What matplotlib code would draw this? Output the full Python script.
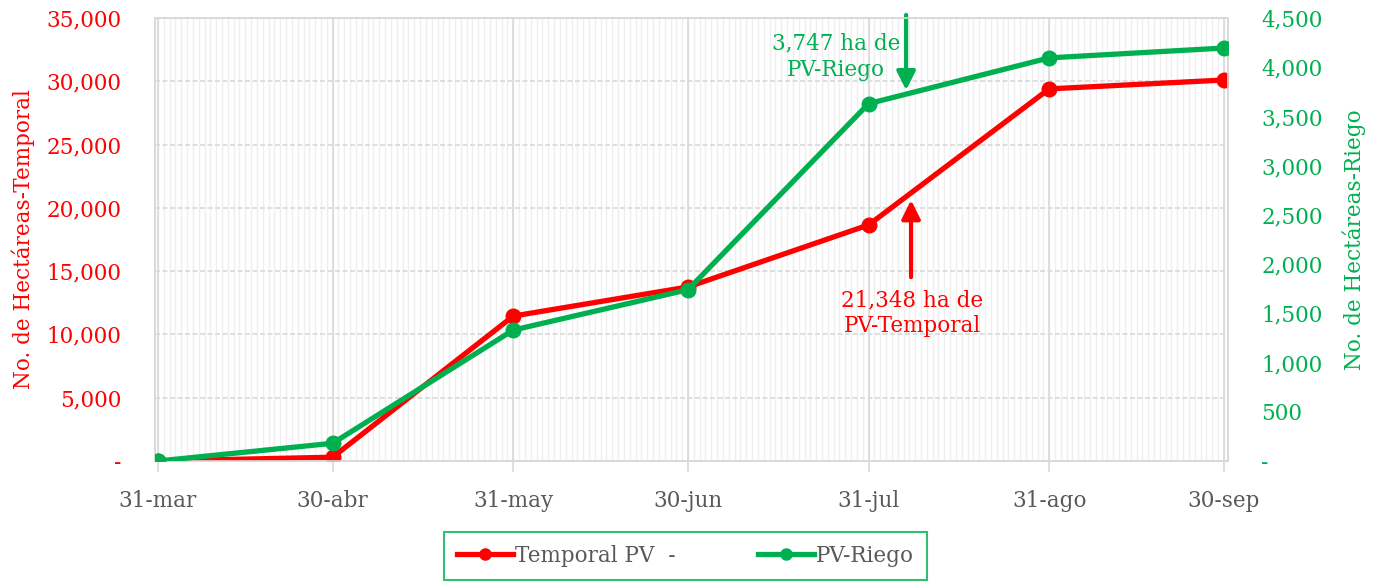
import matplotlib
matplotlib.use("Agg")
import matplotlib.pyplot as plt
import matplotlib.dates as mdates
import matplotlib.ticker as mticker
from matplotlib.lines import Line2D
import numpy as np
import datetime as dt

# cutoff dates (2020 season)
fechas = ["2020-03-31", "2020-04-30", "2020-05-31", "2020-06-30",
          "2020-07-31", "2020-08-31", "2020-09-30"]
etiquetas = ["31-mar", "30-abr", "31-may", "30-jun", "31-jul", "31-ago", "30-sep"]

# hectares
temporal = [0, 300, 11450, 13750, 18650, 29400, 30100]
riego = [0, 180, 1330, 1740, 3630, 4095, 4195]

ROJO = "#ff0000"
VERDE = "#00b050"
GRIS = "#595959"
GRID = "#d9d9d9"
FS = 15.5

plt.rcParams['font.family'] = ['DejaVu Serif']

x = [dt.datetime.strptime(f, "%Y-%m-%d") for f in fechas]
xn = mdates.date2num(x)

fig = plt.figure(figsize=(13.78, 5.84), dpi=100)
ax = fig.add_axes([155/1378, 1-461/584, (1228-155)/1378, (461-18)/584])
ax2 = ax.twinx()

# daily minor gridlines
dias = np.arange(xn[0], xn[-1] + 1)
for d in dias:
    ax.axvline(d, color="#efefef", lw=1, zorder=0)
for d in xn:
    ax.axvline(d, color=GRID, lw=1.2, zorder=0.5)

ax.set_xlim(xn[0] - 0.5, xn[-1] + 0.7)
ax.set_ylim(0, 35000)
ax2.set_ylim(0, 4500)

ax.set_xticks(xn)
ax.set_xticklabels(etiquetas)
ax.tick_params(axis='x', length=8, color=GRID, width=1.2, pad=13, labelsize=FS, labelcolor=GRIS)

ax.set_yticks(np.arange(0, 35001, 5000))
ax.yaxis.set_major_formatter(mticker.FuncFormatter(lambda v, p: "-" if v == 0 else f"{v:,.0f}"))
ax.tick_params(axis='y', length=0, pad=24, labelsize=FS, labelcolor=ROJO)
ax.yaxis.grid(True, color=GRID, ls=(0, (3, 1.5)), lw=1.2)
ax.set_axisbelow(True)

ax2.set_yticks(np.arange(0, 4501, 500))
ax2.yaxis.set_major_formatter(mticker.FuncFormatter(lambda v, p: "-" if v == 0 else f"{v:,.0f}"))
ax2.tick_params(axis='y', length=0, pad=24, labelsize=FS, labelcolor=VERDE)

for a in (ax, ax2):
    for s in a.spines.values():
        s.set_color(GRID)
        s.set_linewidth(1.2)

ax.set_ylabel("No. de Hectáreas-Temporal", color=ROJO, fontsize=FS, labelpad=8)
ax2.set_ylabel("No. de Hectáreas-Riego", color=VERDE, fontsize=FS, labelpad=14)

ax.plot(xn, temporal, color=ROJO, lw=3.8, marker='o', ms=10.5, zorder=3)
ax2.plot(xn, riego, color=VERDE, lw=3.8, marker='o', ms=10.5, zorder=3)

# annotations
ax.annotate("", xy=(0.700, 0.837), xytext=(0.700, 1.007), xycoords='axes fraction',
            arrowprops=dict(arrowstyle='-|>', color=VERDE, lw=3, mutation_scale=28,
                            shrinkA=0, shrinkB=0), annotation_clip=False)
ax.text(0.6347, 0.912, "3,747 ha de\nPV-Riego", transform=ax.transAxes, ha='center',
        va='center', color=VERDE, fontsize=FS, linespacing=1.25)
ax.annotate("", xy=(0.7046, 0.589), xytext=(0.7046, 0.415), xycoords='axes fraction',
            arrowprops=dict(arrowstyle='-|>', color=ROJO, lw=3, mutation_scale=28,
                            shrinkA=0, shrinkB=0))
ax.text(0.7055, 0.333, "21,348 ha de\nPV-Temporal", transform=ax.transAxes, ha='center',
        va='center', color=ROJO, fontsize=FS, linespacing=1.2)

handles = [Line2D([], [], color=ROJO, lw=3.8, marker='o', ms=8),
           Line2D([], [], color=VERDE, lw=3.8, marker='o', ms=8)]
leg = fig.legend(handles, ["Temporal PV  -", "PV-Riego"], loc='upper left',
                 bbox_to_anchor=(444/1378, 1-532/584, 483/1378, 0), mode='expand',
                 ncol=2, frameon=True,
                 fancybox=False, edgecolor=VERDE, fontsize=FS, handlelength=2.6,
                 handletextpad=0.1, columnspacing=2.3, borderpad=0.6, borderaxespad=0)
leg.get_frame().set_linewidth(1.5)
for t in leg.get_texts():
    t.set_color(GRIS)

fig.savefig("out.png", dpi=100)
